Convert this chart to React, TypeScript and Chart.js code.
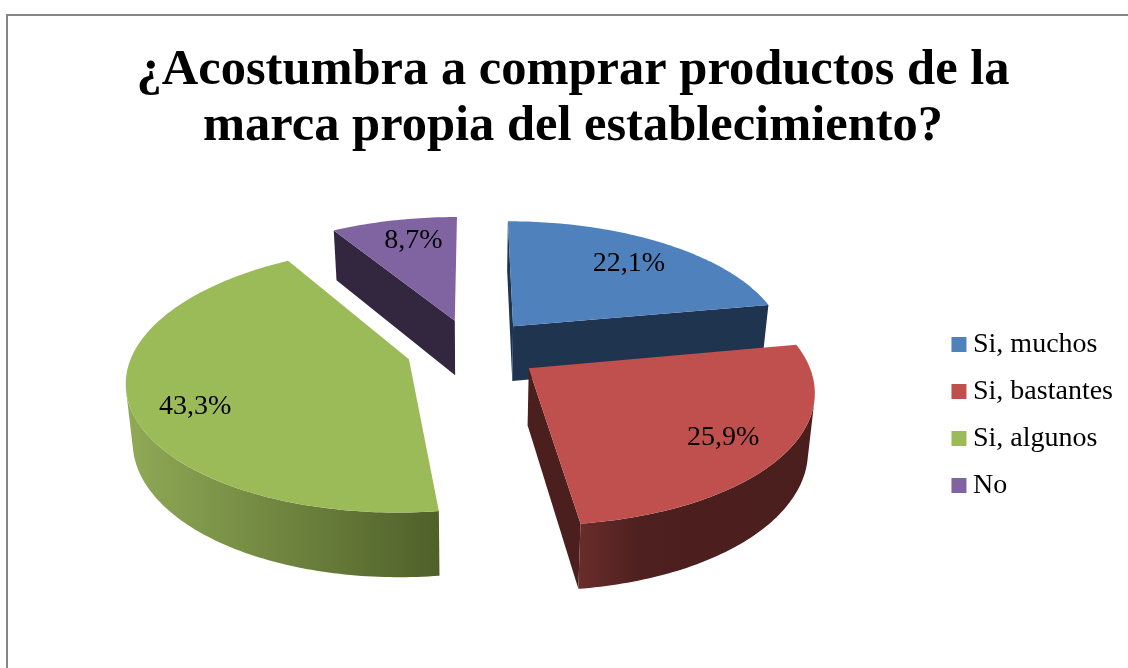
import React, { useEffect, useRef } from "react";
import { Chart, registerables } from "chart.js";

Chart.register(...registerables);

const categories = ["Si, muchos", "Si, bastantes", "Si, algunos", "No"];
const shares = [22.1, 25.9, 43.3, 8.7];
const explosion = [24, 25, 24, 24];
const topColors = ["#4F81BD", "#C0504D", "#9BBB59", "#8064A2"];
const wallColors = ["#1F344F", "#4B1F1E", "#5B6F33", "#33263F"];
const rimStops = [
  ["#1F344F", "#1F344F"],
  ["#682C2A", "#4E201F", "#4C1F1E", "#4B1F1E", "#4A1E1D"],
  ["#90AA56", "#4F6029"],
  ["#33263F", "#33263F"],
];
const labelNudges = [
  [-5, 4],
  [-3, 3],
  [5, 12],
  [8, 1],
];
const titleLines = ["¿Acostumbra a comprar productos de la", "marca propia del establecimiento?"];
const drawOrder = [3, 0, 2, 1];

const VIEW = { cx: 472, cy: 349, a: 275, b: 127, p: 0.15, bottomShrink: 0.98, labelAt: 0.79 };

type Pt = { x: number; y: number; s: number };
const project = (u: number, v: number): Pt => {
  const s = 1 / (1 - VIEW.p * v);
  return { x: VIEW.cx + VIEW.a * u * s, y: VIEW.cy + VIEW.b * v * s, s };
};
const below = (q: Pt): Pt => ({
  x: VIEW.cx + (q.x - VIEW.cx) * VIEW.bottomShrink,
  y: q.y + 11 + 45 * q.s,
  s: q.s,
});
const fillPoly = (ctx: CanvasRenderingContext2D, pts: Pt[], style: any) => {
  ctx.beginPath();
  pts.forEach((q, i) => (i ? ctx.lineTo(q.x, q.y) : ctx.moveTo(q.x, q.y)));
  ctx.closePath();
  ctx.fillStyle = style;
  ctx.fill();
};
const facing = (a: Pt, b: Pt, minArea = 0) => {
  const q = [a, b, below(b), below(a)];
  let area = 0;
  q.forEach((p, i) => {
    const n = q[(i + 1) % 4];
    area += p.x * n.y - n.x * p.y;
  });
  return area < -minArea;
};

const pie3d = {
  id: "pie3d",
  beforeDraw(chart: any) {
    const { ctx, width, height } = chart;
    ctx.save();
    ctx.fillStyle = "#FFFFFF";
    ctx.fillRect(0, 0, width, height);
    ctx.strokeStyle = "#868686";
    ctx.lineWidth = 2;
    ctx.strokeRect(7, 15, width + 20, height + 20);
    ctx.restore();
  },
  beforeDatasetDraw() {
    return false;
  },
  afterDatasetsDraw(chart: any) {
    const { ctx } = chart;
    const arcs = chart.getDatasetMeta(0).data;
    ctx.save();
    drawOrder.forEach((i) => {
      const arc = arcs[i];
      const { startAngle, endAngle } = arc;
      const e = arc.options.offset / 100;
      const mid = (startAngle + endAngle) / 2;
      const ox = Math.cos(mid) * e;
      const oy = Math.sin(mid) * e;
      const apex = project(ox, oy);
      const n = Math.max(8, Math.round(((endAngle - startAngle) * 180) / Math.PI));
      const rim: Pt[] = [];
      for (let k = 0; k <= n; k++) {
        const t = startAngle + ((endAngle - startAngle) * k) / n;
        rim.push(project(ox + Math.cos(t), oy + Math.sin(t)));
      }
      const xs = rim.map((q) => q.x);
      const grad = ctx.createLinearGradient(Math.min(...xs), 0, Math.max(...xs), 0);
      rimStops[i].forEach((c, j) => grad.addColorStop(j / (rimStops[i].length - 1), c));

      if (facing(apex, rim[0], 330)) fillPoly(ctx, [apex, rim[0], below(rim[0]), below(apex)], wallColors[i]);
      if (facing(rim[n], apex, 330)) fillPoly(ctx, [rim[n], apex, below(apex), below(rim[n])], wallColors[i]);
      let run: Pt[] = [];
      const flush = () => {
        if (run.length > 1) fillPoly(ctx, [...run, ...run.map(below).reverse()], grad);
        run = [];
      };
      for (let k = 0; k < n; k++) {
        if (facing(rim[k], rim[k + 1])) {
          if (!run.length) run.push(rim[k]);
          run.push(rim[k + 1]);
        } else {
          flush();
        }
      }
      flush();
      fillPoly(ctx, [apex, ...rim], topColors[i]);
    });
    ctx.font = "28px 'Liberation Serif'";
    ctx.fillStyle = "#000000";
    ctx.textAlign = "center";
    ctx.textBaseline = "middle";
    arcs.forEach((arc: any, i: number) => {
      const mid = (arc.startAngle + arc.endAngle) / 2;
      const r = arc.options.offset / 100 + VIEW.labelAt;
      const q = project(Math.cos(mid) * r, Math.sin(mid) * r);
      ctx.fillText(
        `${shares[i].toFixed(1).replace(".", ",")}%`,
        q.x + labelNudges[i][0],
        q.y + labelNudges[i][1]
      );
    });
    ctx.restore();
  },
};

export default function App() {
  const ref = useRef<HTMLCanvasElement>(null);
  useEffect(() => {
    const chart = new Chart(ref.current as HTMLCanvasElement, {
      type: "pie",
      data: {
        labels: categories,
        datasets: [
          {
            data: shares,
            backgroundColor: topColors,
            offset: explosion,
            borderWidth: 0,
          },
        ],
      },
      options: {
        responsive: false,
        animation: false,
        layout: { padding: { left: 23, right: 5, top: 43, bottom: 0 } },
        plugins: {
          tooltip: { enabled: false },
          title: {
            display: true,
            text: titleLines,
            color: "#000000",
            font: { family: "'Liberation Serif'", weight: "bold", size: 50.5, lineHeight: 56 / 50.5 },
            padding: { top: 0, bottom: 7 },
          },
          legend: {
            position: "right",
            fullSize: false,
            labels: {
              usePointStyle: true,
              pointStyle: "rect",
              boxWidth: 0.1,
              boxHeight: 15,
              padding: 19,
              color: "#000000",
              font: { family: "'Liberation Serif'", size: 28 },
            },
          },
        },
      } as any,
      plugins: [pie3d],
    });
    return () => chart.destroy();
  }, []);
  return (
    <canvas
      ref={ref}
      width={1128}
      height={668}
      style={{ position: "fixed", left: 0, top: 0, display: "block" }}
    />
  );
}
